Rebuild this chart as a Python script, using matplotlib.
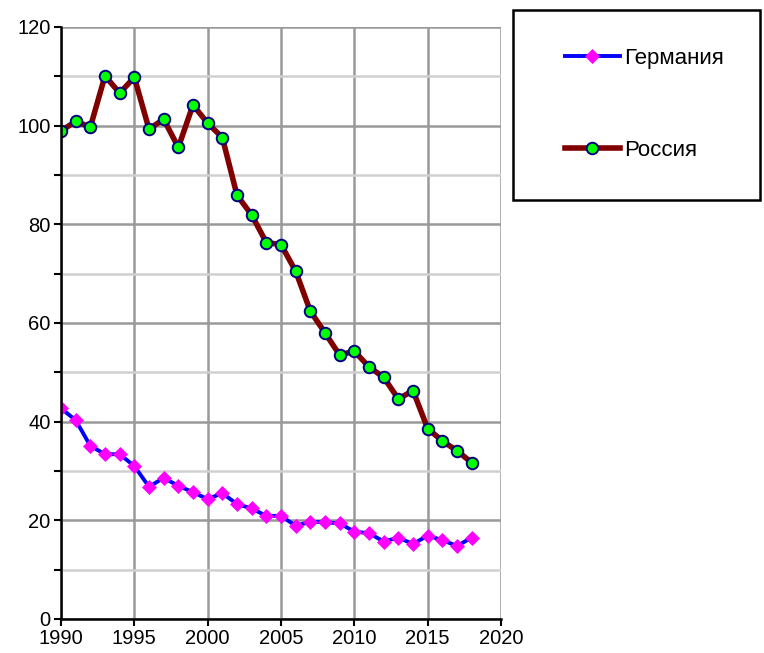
import matplotlib
matplotlib.use("Agg")
import matplotlib.pyplot as plt
from matplotlib.patches import Rectangle
from matplotlib.ticker import MultipleLocator

plt.rcParams['font.family'] = ['Liberation Sans', 'DejaVu Sans']

years = list(range(1990, 2019))
germany = [42.7, 40.3, 35.1, 33.4, 33.4, 31.0, 26.8, 28.6, 27.0, 25.7,
           24.3, 25.5, 23.3, 22.4, 20.9, 20.9, 18.9, 19.7, 19.6, 19.4,
           17.7, 17.4, 15.7, 16.5, 15.2, 16.9, 16.0, 14.8, 16.5]
russia = [98.9, 100.9, 99.7, 110.1, 106.6, 109.8, 99.3, 101.3, 95.6, 104.2,
          100.5, 97.6, 85.9, 81.9, 76.3, 75.9, 70.5, 62.4, 58.0, 53.5,
          54.3, 51.1, 49.0, 44.6, 46.3, 38.6, 36.1, 34.1, 31.7]
labels = ["Германия", "Россия"]

W, H = 764, 653
fig = plt.figure(figsize=(W / 100, H / 100), dpi=100)
ax = fig.add_axes([61 / W, (H - 619) / H, 440 / W, 592 / H])

ax.plot(years, germany, color='#0000ff', lw=2.8, marker='D', ms=7.2,
        mfc='#ff00ff', mec='#ff00ff', mew=0.5, label=labels[0], zorder=3)
ax.plot(years, russia, color='#800000', lw=4.0, marker='o', ms=8.3,
        mfc='#00ff00', mec='#000080', mew=1.4, label=labels[1], zorder=4)

ax.set_xlim(1990, 2020)
ax.set_ylim(0, 120)
ax.xaxis.set_major_locator(MultipleLocator(5))
ax.yaxis.set_major_locator(MultipleLocator(20))
ax.yaxis.set_minor_locator(MultipleLocator(10))
ax.grid(True, which='major', color='#999999', lw=1.8, zorder=1)
ax.grid(True, which='minor', axis='y', color='#d0d0d0', lw=1.8, zorder=0)
ax.set_axisbelow(True)

for s in ['top', 'right']:
    ax.spines[s].set_visible(False)
for s in ['left', 'bottom']:
    ax.spines[s].set_linewidth(1.8)
    ax.spines[s].set_color('black')
    ax.spines[s].set_zorder(5)

ax.tick_params(axis='both', which='both', direction='out', length=5,
               width=1.5, labelsize=14.5, color='black', pad=2.5)
ax.tick_params(axis='x', which='minor', length=0)

# legend box
fig.patches.append(Rectangle((513 / W, (H - 200) / H), 247 / W, 190 / H,
                             transform=fig.transFigure, fill=False,
                             edgecolor='black', lw=1.8))
h, l = ax.get_legend_handles_labels()
leg = fig.legend(h, l, loc='upper left', bbox_to_anchor=(554 / W, (H - 37) / H),
                 frameon=False, fontsize=16, handlelength=2.45,
                 handletextpad=0.2, labelspacing=3.2, borderpad=0,
                 numpoints=1)

fig.savefig('out.png', dpi=100)
